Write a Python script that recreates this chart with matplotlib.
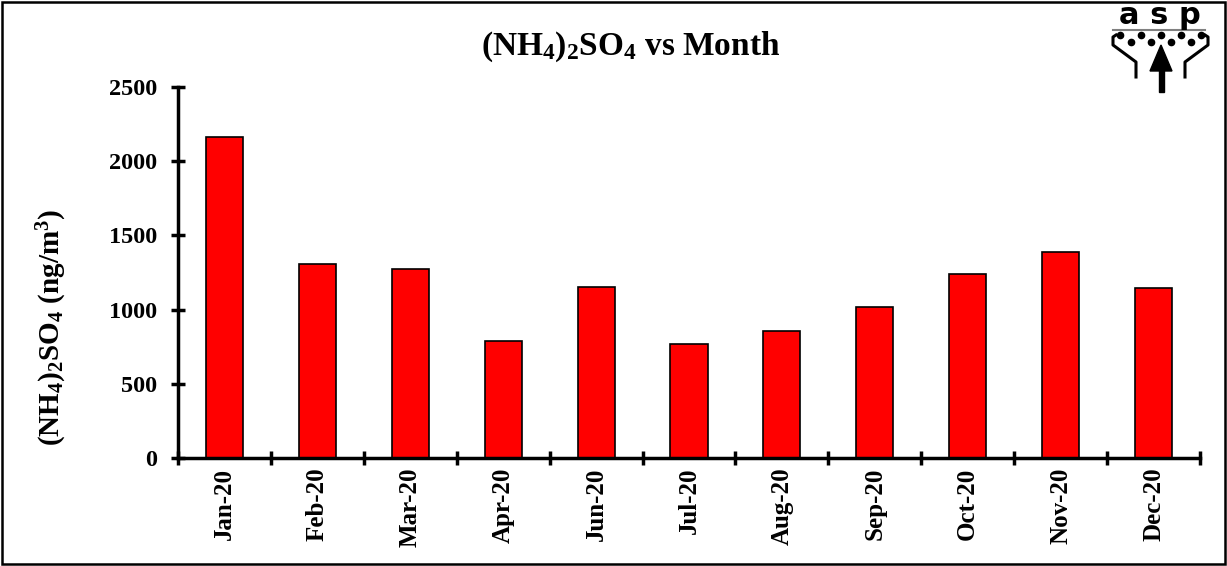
import matplotlib
matplotlib.use("Agg")
import matplotlib.pyplot as plt
import numpy as np
from matplotlib.patches import Rectangle, Polygon

months = ["Jan-20", "Feb-20", "Mar-20", "Apr-20", "Jun-20", "Jul-20",
          "Aug-20", "Sep-20", "Oct-20", "Nov-20", "Dec-20"]
values = [2163, 1307, 1272, 788, 1152, 768, 856, 1017, 1240, 1388, 1148]
yticks = [0, 500, 1000, 1500, 2000, 2500]

plt.rcParams['font.family'] = ['Liberation Serif', 'DejaVu Serif']
plt.rcParams['font.weight'] = 'bold'
plt.rcParams['mathtext.fontset'] = 'custom'
plt.rcParams['mathtext.rm'] = 'Liberation Serif:bold'
plt.rcParams['mathtext.bf'] = 'Liberation Serif:bold'
plt.rcParams['mathtext.it'] = 'Liberation Serif:bold'
plt.rcParams['mathtext.default'] = 'bf'

fig = plt.figure(figsize=(12.27, 5.66), dpi=100)
fig.patch.set_facecolor('white')
fig.add_artist(Rectangle((0.002, 0.003), 0.996, 0.994, transform=fig.transFigure,
                         fill=False, edgecolor='black', linewidth=1.8))

ax = fig.add_axes([178/1227, 1-458/566, (1200-178)/1227, (458-87)/566])
x = np.arange(len(months))
ax.bar(x, values, width=0.4, color='#ff0000', edgecolor='black', linewidth=1.2, zorder=2)

ax.set_xlim(-0.5, len(months)-0.5)
ax.set_ylim(0, 2500)
ax.set_yticks(yticks)
ax.set_yticklabels([str(v) for v in yticks], fontsize=17.5, fontweight='bold')
ax.set_xticks(x)
ax.set_xticklabels(months, rotation=90, fontsize=18, fontweight='bold')
ax.set_xticks(np.arange(-0.5, len(months), 1.0), minor=True)
ax.tick_params(axis='x', which='major', length=0, pad=7)
ax.tick_params(axis='x', which='minor', length=10, width=2.5, direction='inout')
ax.tick_params(axis='y', which='major', length=10, width=2.5, direction='inout', pad=10)

for s in ['top', 'right']:
    ax.spines[s].set_visible(False)
for s in ['left', 'bottom']:
    ax.spines[s].set_linewidth(2.5)

fig.text(52/1227, 1-327/566, "(NH$_4$)$_2$SO$_4$ (ng/m$^3$)", rotation=90,
         ha='center', va='center', fontsize=21, fontweight='bold')
fig.text(631/1227, 1-47/566, "(NH$_4$)$_2$SO$_4$ vs Month", ha='center', va='center',
         fontsize=24, fontweight='bold')

# logo (pixel coordinates within region x 1100-1227, y 0-100)
lax = fig.add_axes([1100/1227, 1-100/566, 127/1227, 100/566])
lax.set_xlim(1100, 1227)
lax.set_ylim(100, 0)
lax.axis('off')
lax.text(1160, 16, "a s p", ha='center', va='center', fontsize=22, fontweight='bold',
         family='DejaVu Sans')
lax.plot([1113, 1205], [30, 30], color='gray', lw=1.5)
for dx in [1120, 1141, 1161, 1181, 1201]:
    lax.plot(dx, 34.5, 'o', color='black', ms=4.5)
for dx in [1131, 1151, 1171, 1191]:
    lax.plot(dx, 42, 'o', color='black', ms=4.5)
lax.plot([1116, 1113, 1113, 1136, 1136], [35, 37, 45, 62, 77], color='black', lw=2.2)
lax.plot([1205, 1208, 1208, 1185, 1185], [35, 37, 45, 62, 77], color='black', lw=2.2)
lax.add_patch(Polygon([[1150, 71], [1161, 45], [1172, 71]], closed=True, color='black'))
lax.add_patch(Rectangle((1158.5, 70), 5, 22, color='black'))

fig.savefig("out.png", dpi=100)
